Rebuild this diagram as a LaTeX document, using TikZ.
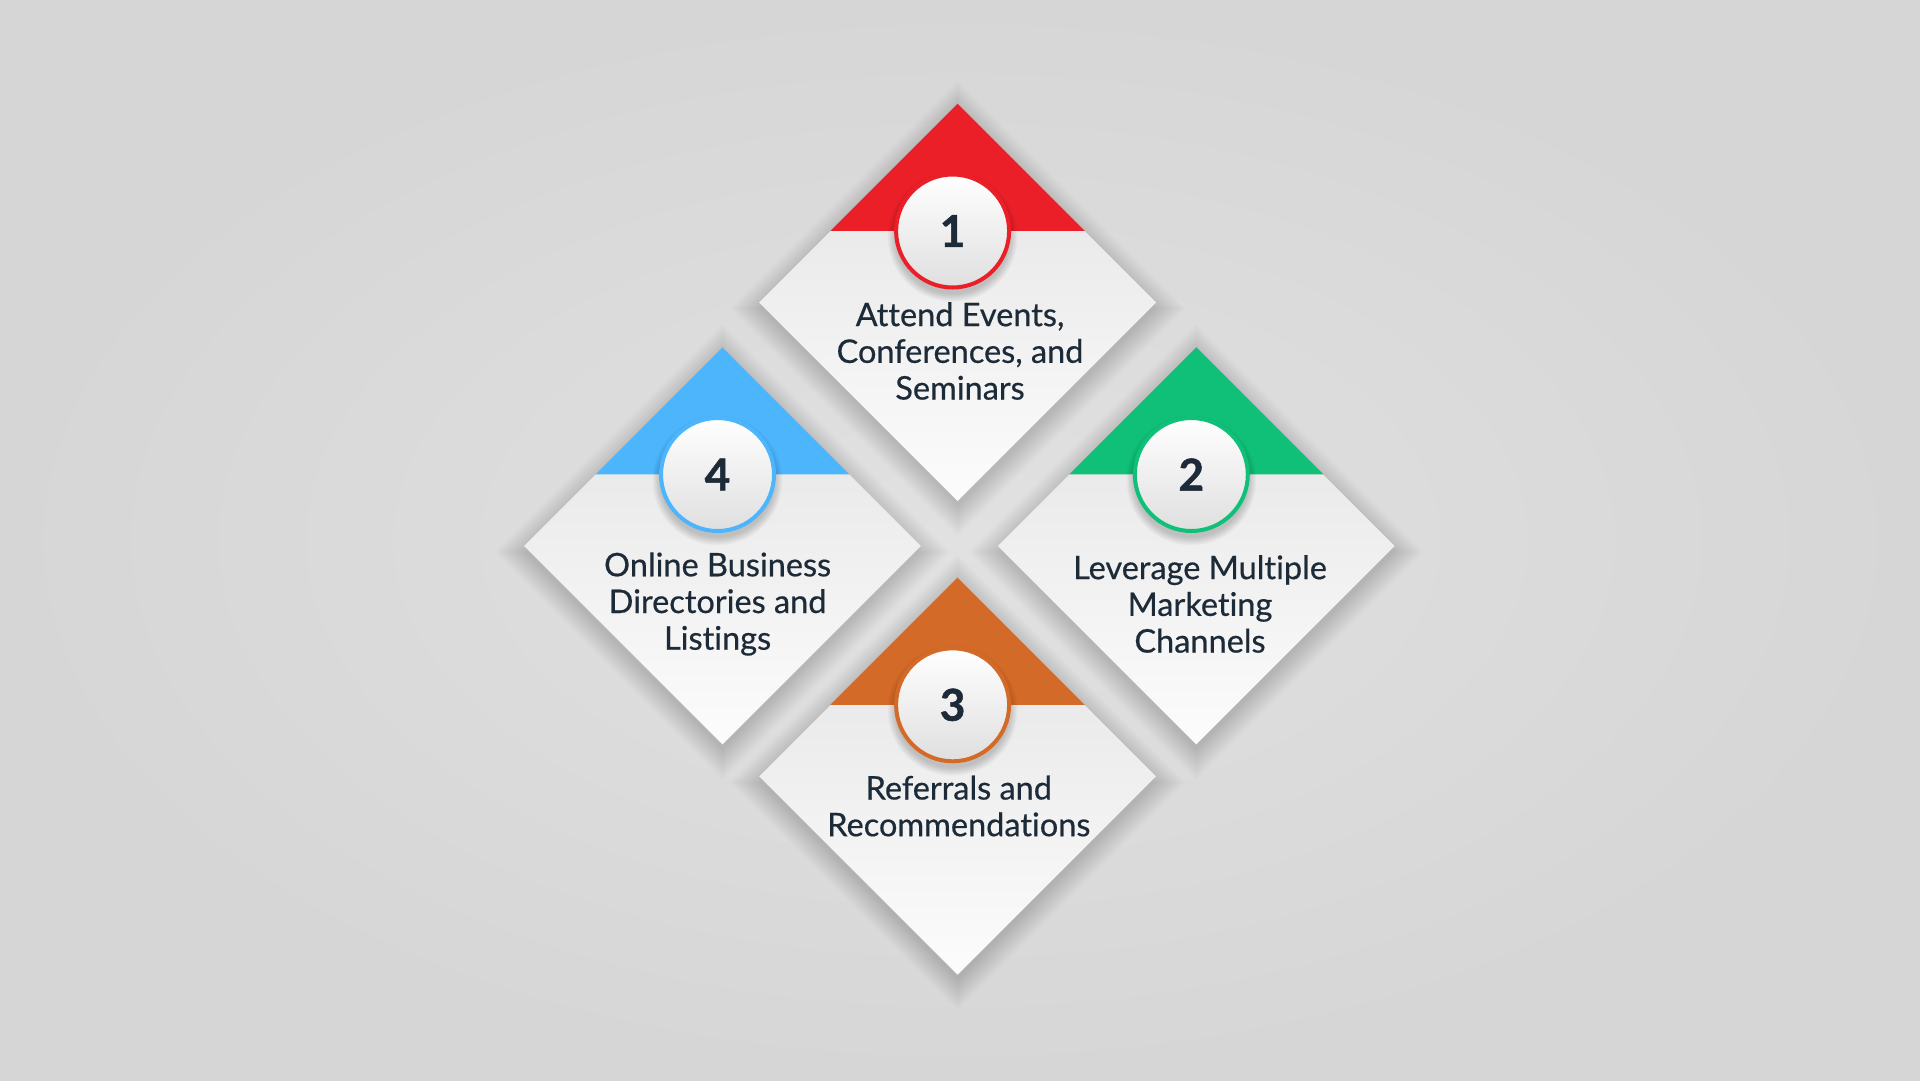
\documentclass[tikz,border=0pt]{standalone}
\usepackage{fontspec}
\setmainfont{Lato}[Ligatures=NoCommon]
\newfontfamily\cardfont{Lato}[FakeBold=0.5, Ligatures=NoCommon]
\newfontfamily\numfont{Lato}[BoldFeatures={FakeBold=1.2}]
\usetikzlibrary{shapes.geometric,calc}
\definecolor{bgin}{HTML}{E1E1E1}
\definecolor{bgout}{HTML}{D6D6D6}
\definecolor{ink}{HTML}{1D2B38}
\definecolor{cred}{HTML}{EB1F28}
\definecolor{cgreen}{HTML}{10BF78}
\definecolor{cblue}{HTML}{4CB5FB}
\definecolor{corange}{HTML}{D36A28}
\definecolor{cardtop}{HTML}{E2E2E2}
\definecolor{cardbot}{HTML}{FCFCFC}
\tikzset{
  card/.style={diamond, aspect=1, minimum width=397pt, minimum height=397pt, inner sep=0pt, top color=cardtop, bottom color=cardbot, draw=none},
  badge/.style={circle, minimum size=113pt, inner sep=0pt, line width=4pt, draw=#1, top color=white, bottom color=gray!25, font=\numfont\bfseries\fontsize{44}{44}\selectfont, text=ink},
  cardtext/.style={align=center, text=ink, font=\cardfont\fontsize{32.5}{36.7}\selectfont, inner sep=0pt},
}
% #1 id, #2 cx, #3 cy, #4 colour, #5 number, #6 tx, #7 ty, #8 text
\newcommand\mycard[8]{%
  \coordinate (p#1) at (#2,#3);
  \foreach \k in {1,...,20}{
    \fill[black,opacity=0.006] ($(p#1)+(0,6)$) +(0,-196-1.6*\k) -- +(196+1.6*\k,0) -- +(0,196+1.6*\k) -- +(-196-1.6*\k,0) -- cycle;
  }
  \node[card] (d#1) at (p#1) {};
  \fill[#4] (d#1.north) -- ($(d#1.north)!0.64!(d#1.west)$) -- ($(d#1.north)!0.64!(d#1.east)$) -- cycle;
  \coordinate (q#1) at ($(p#1)+(-5,-71.5)$);
  \foreach \k in {1,...,10}{
    \fill[black,opacity=0.018] ($(q#1)+(0,6)$) circle (56+0.9*\k);
  }
  \node[badge=#4] (c#1) at (q#1) {#5};
  \node[cardtext] (t#1) at (#6,#7) {#8};
}
\begin{document}
\begin{tikzpicture}[x=1pt,y=-1pt]
\useasboundingbox (0,0) rectangle (1920,1080);
\shade[inner color=bgin, outer color=bgout] (0,0) rectangle (1920,1080);
\mycard{1}{957.6}{302.5}{cred}{1}{960}{351}{Attend Events,\\Conferences, and\\Seminars}
\mycard{4}{722.5}{546}{cblue}{4}{717.6}{604}{Online Business\\Directories and\\Listings}
\mycard{2}{1196.3}{546}{cgreen}{2}{1200}{604}{Leverage Multiple\\Marketing\\Channels}
\mycard{3}{957.6}{776.3}{corange}{3}{958.8}{806}{Referrals and\\Recommendations}
\end{tikzpicture}
\end{document}
